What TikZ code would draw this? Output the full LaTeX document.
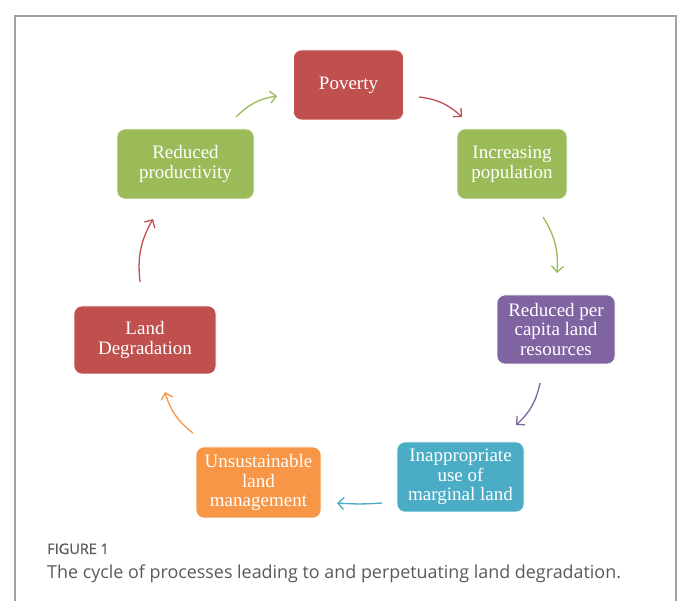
\documentclass[tikz,border=0pt]{standalone}
\usepackage{fontspec}
\setmainfont{Liberation Serif}
\newfontfamily\capfont{Open Sans}
\newfontfamily\capheadfont[FakeBold=0.8]{Open Sans}
\usetikzlibrary{arrows.meta}

\definecolor{cRed}{HTML}{C0504D}
\definecolor{cGreen}{HTML}{9BBB59}
\definecolor{cPurple}{HTML}{8064A2}
\definecolor{cBlue}{HTML}{4BACC6}
\definecolor{cOrange}{HTML}{F79646}
\definecolor{frameGray}{HTML}{A3A3A3}
\definecolor{capGray}{HTML}{5A5A5A}

\tikzset{
  box/.style={rounded corners=8pt, draw=white, line width=0.6pt, inner sep=0pt,
    text=white, align=center,
    font=\fontsize{19}{19.5}\selectfont},
  flow/.style={line width=1.3pt, -{Straight Barb[length=6pt,width=12pt]}, bend left=18},
}

\begin{document}
\begin{tikzpicture}[x=1pt,y=-1pt]
  \useasboundingbox (0,0) rectangle (678,601);
  \fill[white] (0,0) rectangle (678,601);

  % figure frame, open at the bottom
  \draw[frameGray, line width=1.1pt] (15,601) -- (15,16) -- (676,16) -- (676,601);

  % process boxes
  \node[box, fill=cRed,    minimum width=110pt, minimum height=70pt] (pov)   at (348.5,85)  {Poverty};
  \node[box, fill=cGreen,  minimum width=110pt, minimum height=70pt] (inc)   at (512,164)   {Increasing\\population};
  \node[box, fill=cPurple, minimum width=118pt, minimum height=69pt] (res)   at (556,329.5) {Reduced per\\capita land\\resources};
  \node[box, fill=cBlue,   minimum width=127pt, minimum height=70pt] (inap)  at (460.5,477) {Inappropriate\\use of\\marginal land};
  \node[box, fill=cOrange, minimum width=125pt, minimum height=71pt] (unsus) at (258.5,482.5) {Unsustainable\\land\\management};
  \node[box, fill=cRed,    minimum width=142pt, minimum height=68pt] (deg)   at (145,340)   {Land\\Degradation};
  \node[box, fill=cGreen,  minimum width=137pt, minimum height=70pt] (prod)  at (185.5,164) {Reduced\\productivity};

  % arrow end points between the boxes
  \coordinate (a1s) at (419,97);  \coordinate (a1e) at (462,117);
  \coordinate (a2s) at (543,217); \coordinate (a2e) at (557,273);
  \coordinate (a3s) at (540,383); \coordinate (a3e) at (516,425);
  \coordinate (a4s) at (382,503); \coordinate (a4e) at (337,503);
  \coordinate (a5s) at (193,433); \coordinate (a5e) at (165,392);
  \coordinate (a6s) at (140,282); \coordinate (a6e) at (153,219);
  \coordinate (a7s) at (236,117); \coordinate (a7e) at (277,96);

  \draw[flow, cRed]    (a1s) to (a1e);
  \draw[flow, cGreen]  (a2s) to (a2e);
  \draw[flow, cPurple] (a3s) to (a3e);
  \draw[flow, cBlue, bend left=4] (a4s) to (a4e);
  \draw[flow, cOrange] (a5s) to (a5e);
  \draw[flow, cRed]    (a6s) to (a6e);
  \draw[flow, cGreen]  (a7s) to (a7e);

  % caption
  \node[anchor=base west, inner sep=0pt, text=capGray,
        font=\capheadfont\fontsize{14.5}{16}\selectfont] (fig) at (47,554) {FIGURE 1};
  \node[anchor=base west, inner sep=0pt, text=capGray,
        font=\capfont\fontsize{17.9}{20}\selectfont] (cap) at (47,579)
        {The cycle of processes leading to and perpetuating land degradation.};
\end{tikzpicture}
\end{document}
